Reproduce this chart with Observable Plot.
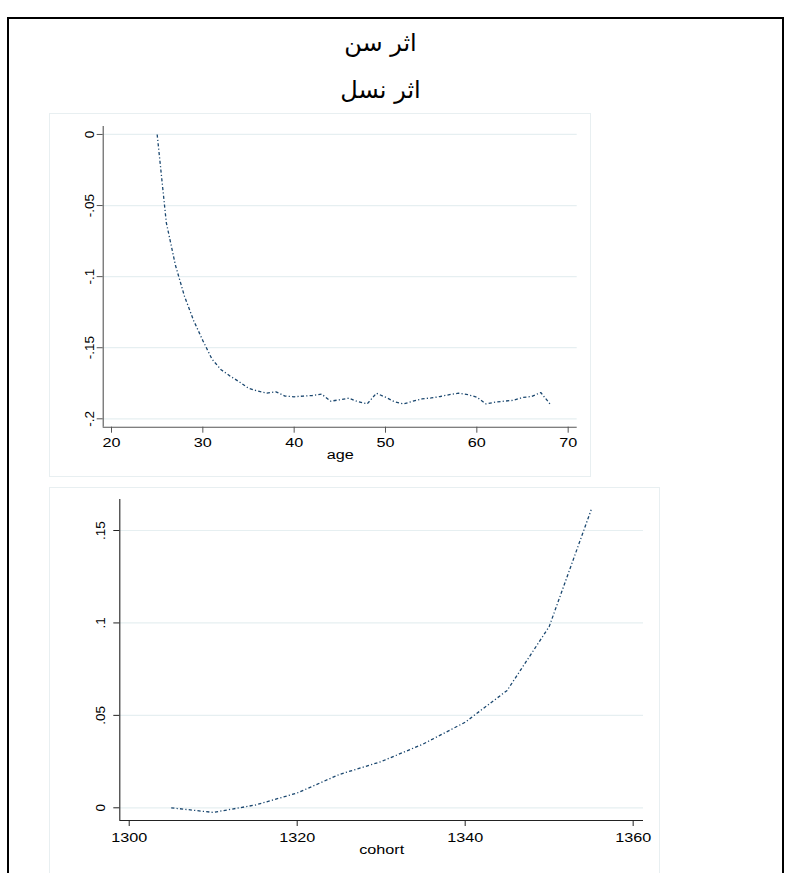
<!DOCTYPE html>
<html><head><meta charset="utf-8">
<script src="https://cdn.jsdelivr.net/npm/d3@7"></script>
<script src="https://cdn.jsdelivr.net/npm/@observablehq/plot@0.6"></script>
<style>
body{margin:0;background:#fff;width:789px;height:873px;overflow:hidden;position:relative;font-family:"Liberation Sans",Arial,sans-serif;}
#frame{position:absolute;left:7px;top:17px;width:777px;height:900px;border:2px solid #000;box-sizing:border-box;}
.title{position:absolute;left:260px;width:241px;text-align:center;font-family:"DejaVu Sans",serif;font-size:24px;line-height:30px;direction:rtl;color:#000;}
.panelbox{position:absolute;border:1px solid #e8eff1;box-sizing:border-box;}
.plot{position:absolute;}
</style></head>
<body>
<div id="frame"></div>
<div class="title" style="top:28px">اثر سن</div>
<div class="title" style="top:75px">اثر نسل</div>
<div class="panelbox" style="left:49px;top:113px;width:542px;height:364px"></div>
<div class="panelbox" style="left:49px;top:487px;width:611px;height:400px"></div>
<div id="p1" class="plot" style="left:49px;top:113px"></div>
<div id="p2" class="plot" style="left:49px;top:487px"></div>
<script>
// ---- data: age effect ----
const ages = [25,26,27,28,29,30,31,32,33,34,35,36,37,38,39,40,41,42,43,44,45,46,47,48,49,50,51,52,53,54,55,56,57,58,59,60,61,62,63,64,65,66,67,68];
const ageEffect = [0,-0.062,-0.092,-0.114,-0.131,-0.145,-0.158,-0.1655,-0.170,-0.174,-0.1785,-0.1805,-0.182,-0.181,-0.184,-0.1845,-0.184,-0.1836,-0.1826,-0.1876,-0.1866,-0.1855,-0.188,-0.1895,-0.182,-0.1848,-0.188,-0.1895,-0.1876,-0.186,-0.1853,-0.1843,-0.183,-0.182,-0.183,-0.1848,-0.1895,-0.1883,-0.1876,-0.187,-0.185,-0.1843,-0.1815,-0.1895];
const ageXTicks = [20,30,40,50,60,70];
const ageXTickLabels = ["20","30","40","50","60","70"];
const ageYTicks = [0,-0.05,-0.1,-0.15,-0.2];
const ageYTickLabels = ["0","-.05","-.1","-.15","-.2"];

// ---- data: cohort effect ----
const cohorts = [1305,1310,1315,1320,1325,1330,1335,1340,1345,1350,1355];
const cohortEffect = [0,-0.0025,0.0015,0.008,0.018,0.025,0.0345,0.0463,0.0635,0.098,0.1612];
const cohortXTicks = [1300,1320,1340,1360];
const cohortXTickLabels = ["1300","1320","1340","1360"];
const cohortYTicks = [0,0.05,0.1,0.15];
const cohortYTickLabels = ["0",".05",".1",".15"];

const LINE = "#1a476f";
const GRID = "#e6eff1";

// widen horizontal (non-rotated) labels, scaling each around its own anchor
function stretchHorizontal(svg, s){
  svg.querySelectorAll("text").forEach(t=>{
    if (!t.textContent) return;
    const tr = t.getAttribute("transform") || "";
    if (tr.includes("rotate")) return;
    if (tr) t.setAttribute("transform", tr + ` scale(${s},1)`);
    else {
      const x = +t.getAttribute("x")||0, y = +t.getAttribute("y")||0;
      t.setAttribute("x",0); t.setAttribute("y",0);
      t.setAttribute("transform", `translate(${x},${y}) scale(${s},1)`);
    }
  });
}

function panel(o){
  const data = o.xs.map((x,i)=>({x, y:o.ys[i]}));
  const svg = Plot.plot({
    width:o.width, height:o.height,
    marginLeft:o.ml, marginRight:o.mr, marginTop:o.mt, marginBottom:o.mb,
    style:{fontFamily:'"Liberation Sans", Arial, sans-serif', background:"transparent", overflow:"visible"},
    x:{domain:o.xDomain},
    y:{domain:o.yDomain},
    marks:[
      Plot.ruleY(o.yTicks, {stroke:GRID, strokeWidth:1.2}),
      Plot.ruleX([o.xDomain[0]], {stroke:o.axis, strokeWidth:1.1}),
      Plot.ruleY([o.yDomain[0]], {stroke:o.axis, strokeWidth:1.1}),
      Plot.axisX({ticks:o.xTicks, tickSize:6, tickFormat:()=>"", label:null, stroke:o.axis}),
      Plot.axisY({ticks:o.yTicks, tickSize:6, tickFormat:()=>"", label:null, stroke:o.axis}),
      Plot.text(o.xTicks, {x:d=>d, text:(d,i)=>o.xTickLabels[i], frameAnchor:"bottom", dy:o.xTickDy, textAnchor:"middle", lineAnchor:"middle", fontSize:13.5, fill:"#000"}),
      Plot.text(o.yTicks, {y:d=>d, text:(d,i)=>o.yTickLabels[i], frameAnchor:"left", dx:o.yTickDx, rotate:-90, textAnchor:"middle", lineAnchor:"middle", fontSize:13.5, fill:"#000"}),
      Plot.text([o.xLabel], {text:d=>d, frameAnchor:"bottom", dy:o.xLabelDy, textAnchor:"middle", lineAnchor:"middle", fontSize:13.5, fill:"#000"}),
      Plot.line(data, {x:"x", y:"y", stroke:LINE, strokeWidth:1.3, strokeLinecap:"butt", strokeLinejoin:"miter", strokeDasharray:"3.2,2.2,1.2,2.2"})
    ]
  });
  stretchHorizontal(svg, 1.2);
  return svg;
}

document.getElementById("p1").appendChild(panel({
  xs:ages, ys:ageEffect, width:542, height:364, ml:53.7, mr:14.3, mt:13, mb:50.3,
  xDomain:[19.09,70.99], yDomain:[-0.2059,0.0056], axis:"#555",
  xTicks:ageXTicks, xTickLabels:ageXTickLabels, yTicks:ageYTicks, yTickLabels:ageYTickLabels,
  xTickDy:15.5, yTickDx:-13.5, xLabel:"age", xLabelDy:27.5
}));
document.getElementById("p2").appendChild(panel({
  xs:cohorts, ys:cohortEffect, width:611, height:386, ml:70.3, mr:17, mt:12, mb:53,
  xDomain:[1298.88,1361.23], yDomain:[-0.00687,0.16677], axis:"#222",
  xTicks:cohortXTicks, xTickLabels:cohortXTickLabels, yTicks:cohortYTicks, yTickLabels:cohortYTickLabels,
  xTickDy:17, yTickDx:-19.3, xLabel:"cohort", xLabelDy:29
}));
</script>
</body></html>
